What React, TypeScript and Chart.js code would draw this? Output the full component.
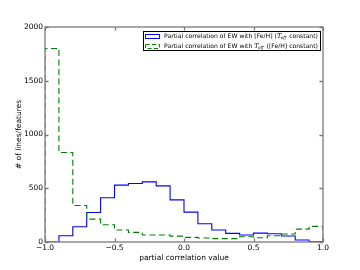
import { useEffect, useRef } from 'react';
import { Chart, registerables } from 'chart.js';
Chart.register(...registerables);

const binEdges = [-1.0, -0.9, -0.8, -0.7, -0.6, -0.5, -0.4, -0.3, -0.2, -0.1, 0.0, 0.1, 0.2, 0.3, 0.4, 0.5, 0.6, 0.7, 0.8, 0.9, 1.0];
const feHCounts = [0, 58, 142, 275, 411, 529, 544, 559, 522, 392, 278, 170, 111, 80, 65, 83, 77, 56, 18, 2];
const teffCounts = [1800, 832, 340, 213, 160, 111, 90, 65, 65, 55, 43, 37, 31, 31, 49, 40, 58, 74, 120, 145];
const xTicks = [-1.0, -0.5, 0.0, 0.5, 1.0];
const yTicks = [0, 500, 1000, 1500, 2000];
const xTitle = 'partial correlation value';
const yTitle = '# of lines/features';
const legendParts = [
  ['Partial correlation of EW with [Fe/H] (', ' constant)'],
  ['Partial correlation of EW with ', ' ([Fe/H] constant)'],
];

const BLUE = '#0000ff';
const GREEN = '#008000';
const FRAME = '#7a7a7a';
const FONT = '"DejaVu Sans", sans-serif';

function stepPoints(counts: number[]) {
  const last = binEdges.length - 1;
  const pts = [{ x: binEdges[0], y: 0 }];
  counts.forEach((c, i) => pts.push({ x: binEdges[i], y: c }));
  pts.push({ x: binEdges[last], y: counts[counts.length - 1] });
  pts.push({ x: binEdges[last], y: 0 });
  return pts;
}

const framePlugin = {
  id: 'frameTicks',
  afterDatasetsDraw(chart: any) {
    const { ctx, chartArea: a, scales } = chart;
    ctx.save();
    ctx.strokeStyle = FRAME;
    ctx.lineWidth = 1.3;
    const tl = 3.5;
    ctx.beginPath();
    xTicks.forEach((v) => {
      const px = Math.round(scales.x.getPixelForValue(v)) + 0.5;
      ctx.moveTo(px, a.bottom); ctx.lineTo(px, a.bottom - tl);
      ctx.moveTo(px, a.top); ctx.lineTo(px, a.top + tl);
    });
    yTicks.forEach((v) => {
      const py = Math.round(scales.y.getPixelForValue(v)) + 0.5;
      ctx.moveTo(a.left, py); ctx.lineTo(a.left + tl, py);
      ctx.moveTo(a.right, py); ctx.lineTo(a.right - tl, py);
    });
    ctx.stroke();
    ctx.strokeRect(a.left, a.top, a.right - a.left, a.bottom - a.top);
    ctx.restore();
  },
  afterDraw(chart: any) {
    const { ctx, chartArea: a } = chart;
    ctx.save();
    const fs = 6.1;
    const mainFont = `${fs}px ${FONT}`;
    const tFont = `italic ${fs + 0.4}px "DejaVu Serif", serif`;
    const subFont = `italic ${fs * 0.68}px "DejaVu Serif", serif`;
    const widths = legendParts.map(([p, s]) => {
      ctx.font = mainFont;
      const w1 = ctx.measureText(p).width;
      const w3 = ctx.measureText(s).width;
      ctx.font = tFont;
      const w2 = ctx.measureText('T').width;
      ctx.font = subFont;
      const w4 = ctx.measureText('eff').width;
      return { w1, w2, w3, w4, total: w1 + w2 + w4 + 0.6 + w3 };
    });
    const textW = Math.max(...widths.map((w) => w.total));
    const right = a.right - 3;
    const top = a.top + 4;
    const left = right - (textW + 23);
    const bottom = top + 19;
    ctx.fillStyle = '#ffffff';
    ctx.fillRect(left, top, right - left, bottom - top);
    ctx.strokeStyle = '#000000';
    ctx.lineWidth = 1;
    ctx.strokeRect(Math.round(left) + 0.5, top + 0.5, Math.round(right - left), bottom - top);
    const colors = [BLUE, GREEN];
    legendParts.forEach(([p, s], i) => {
      const cy = top + 5 + i * 10;
      ctx.save();
      ctx.strokeStyle = colors[i];
      ctx.lineWidth = 1;
      if (i === 1) ctx.setLineDash([4, 2.5]);
      ctx.strokeRect(left + 2.5, cy - 1.5, 14, 4);
      ctx.restore();
      let x = left + 21;
      const w = widths[i];
      ctx.fillStyle = '#000000';
      ctx.textBaseline = 'middle';
      ctx.font = mainFont;
      ctx.fillText(p, x, cy + 0.5);
      x += w.w1;
      ctx.font = tFont;
      ctx.fillText('T', x, cy + 0.5);
      x += w.w2;
      ctx.font = subFont;
      ctx.fillText('eff', x - 0.3, cy + 2.2);
      x += w.w4 + 0.6;
      ctx.font = mainFont;
      ctx.fillText(s, x, cy + 0.5);
    });
    ctx.restore();
  },
};

export default function App() {
  const ref = useRef<HTMLCanvasElement>(null);
  useEffect(() => {
    if (!ref.current) return;
    const chart = new Chart(ref.current, {
      type: 'line',
      data: {
        datasets: [
          {
            label: 'Fe/H',
            data: stepPoints(feHCounts),
            borderColor: BLUE,
            borderWidth: 1.1,
            stepped: 'before',
            pointRadius: 0,
            fill: false,
            order: 2,
          },
          {
            label: 'Teff',
            data: stepPoints(teffCounts),
            borderColor: GREEN,
            borderWidth: 1.1,
            borderDash: [6, 3.5],
            stepped: 'before',
            pointRadius: 0,
            fill: false,
            order: 1,
          },
        ],
      },
      options: {
        responsive: false,
        animation: false,
        events: [],
        layout: { padding: { top: 27, right: 37, left: 0, bottom: 0 } },
        plugins: { legend: { display: false }, tooltip: { enabled: false } },
        scales: {
          x: {
            type: 'linear',
            min: -1,
            max: 1,
            afterFit: (s: any) => { s.height = 28; },
            afterBuildTicks: (s: any) => { s.ticks = xTicks.map((v) => ({ value: v })); },
            grid: { display: false, drawTicks: false, tickLength: 0 },
            border: { display: false },
            ticks: {
              padding: 1.5,
              maxRotation: 0,
              autoSkip: false,
              color: '#000',
              font: { family: FONT, size: 7.5 },
              callback: (v: any) => (v < 0 ? '\u2212' : '') + Math.abs(v).toFixed(1),
            },
            title: {
              display: true,
              text: xTitle,
              color: '#000',
              font: { family: FONT, size: 7.5 },
              padding: { top: 0, bottom: 7.3 },
            },
          },
          y: {
            type: 'linear',
            min: 0,
            max: 2000,
            afterFit: (s: any) => { s.width = 45; },
            afterBuildTicks: (s: any) => { s.ticks = yTicks.map((v) => ({ value: v })); },
            grid: { display: false, drawTicks: false, tickLength: 0 },
            border: { display: false },
            ticks: {
              padding: 2,
              autoSkip: false,
              color: '#000',
              font: { family: FONT, size: 7.5 },
              callback: (v: any) => String(v),
            },
            title: {
              display: true,
              text: yTitle,
              color: '#000',
              font: { family: FONT, size: 7.5 },
              padding: { top: 14.5, bottom: 0 },
            },
          },
        },
      },
      plugins: [framePlugin],
    });
    return () => chart.destroy();
  }, []);
  return (
    <div style={{ position: 'absolute', left: 0, top: 0, width: 360, height: 270, background: '#fff' }}>
      <canvas ref={ref} width={360} height={270} />
    </div>
  );
}
